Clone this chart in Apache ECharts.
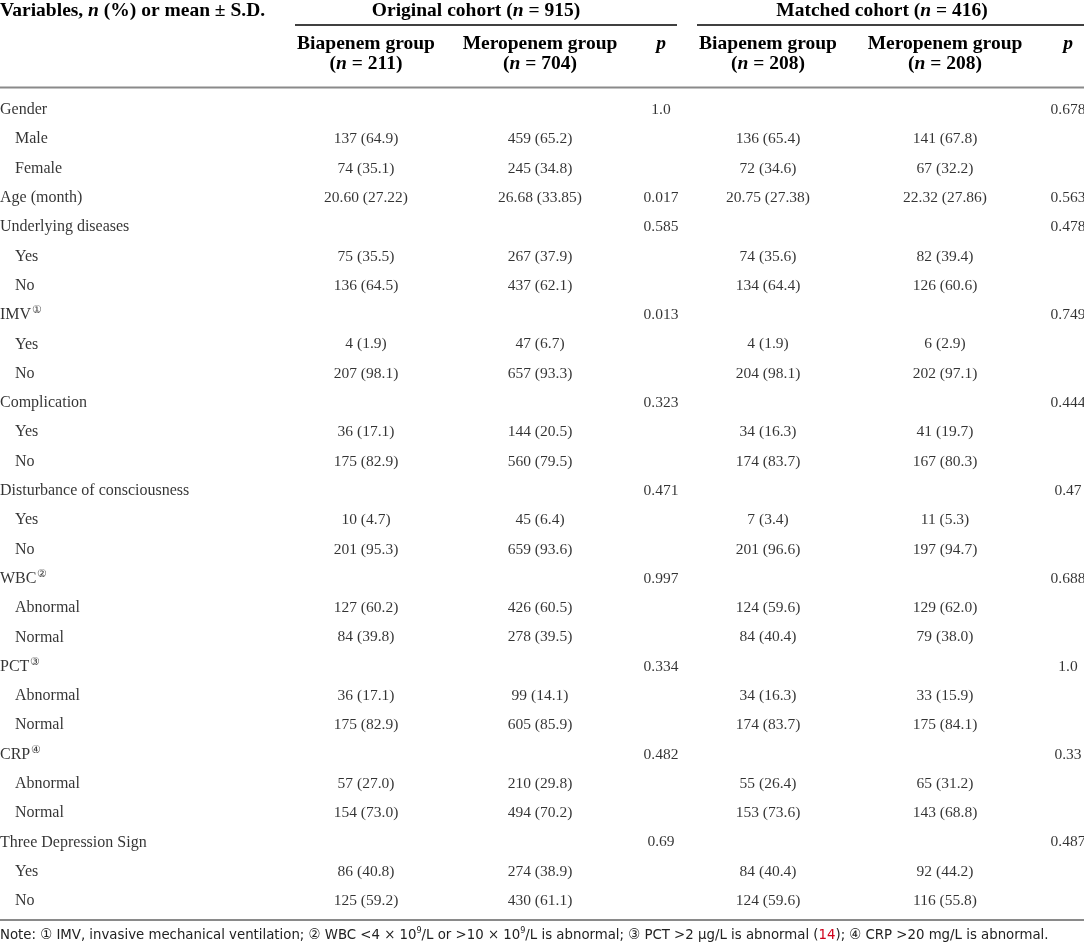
<!DOCTYPE html>
<html>
<head>
<meta charset="utf-8">
<script src="https://cdn.jsdelivr.net/npm/echarts@6/dist/echarts.min.js"></script>
<style>
html,body{margin:0;padding:0;background:#fff;}
#chart{width:1084px;height:947px;}
</style>
</head>
<body>
<div id="chart"></div>
<script>
// rows of the table
var rowNames = ['Gender', 'Male', 'Female', 'Age (month)', 'Underlying diseases', 'Yes', 'No', 'IMV', 'Yes', 'No',
    'Complication', 'Yes', 'No', 'Disturbance of consciousness', 'Yes', 'No', 'WBC', 'Abnormal', 'Normal',
    'PCT', 'Abnormal', 'Normal', 'CRP', 'Abnormal', 'Normal', 'Three Depression Sign', 'Yes', 'No'];
var rowIndent = [0, 1, 1, 0, 0, 1, 1, 0, 1, 1, 0, 1, 1, 0, 1, 1, 0, 1, 1, 0, 1, 1, 0, 1, 1, 0, 1, 1];
var rowMark = ['', '', '', '', '', '', '', '①', '', '', '', '', '', '', '', '', '②', '', '', '③', '', '', '④', '', '', '', '', ''];

var biaOrig = ['', '137 (64.9)', '74 (35.1)', '20.60 (27.22)', '', '75 (35.5)', '136 (64.5)', '', '4 (1.9)', '207 (98.1)',
    '', '36 (17.1)', '175 (82.9)', '', '10 (4.7)', '201 (95.3)', '', '127 (60.2)', '84 (39.8)',
    '', '36 (17.1)', '175 (82.9)', '', '57 (27.0)', '154 (73.0)', '', '86 (40.8)', '125 (59.2)'];
var meroOrig = ['', '459 (65.2)', '245 (34.8)', '26.68 (33.85)', '', '267 (37.9)', '437 (62.1)', '', '47 (6.7)', '657 (93.3)',
    '', '144 (20.5)', '560 (79.5)', '', '45 (6.4)', '659 (93.6)', '', '426 (60.5)', '278 (39.5)',
    '', '99 (14.1)', '605 (85.9)', '', '210 (29.8)', '494 (70.2)', '', '274 (38.9)', '430 (61.1)'];
var pOrig = ['1.0', '', '', '0.017', '0.585', '', '', '0.013', '', '', '0.323', '', '', '0.471', '', '',
    '0.997', '', '', '0.334', '', '', '0.482', '', '', '0.69', '', ''];
var biaMatch = ['', '136 (65.4)', '72 (34.6)', '20.75 (27.38)', '', '74 (35.6)', '134 (64.4)', '', '4 (1.9)', '204 (98.1)',
    '', '34 (16.3)', '174 (83.7)', '', '7 (3.4)', '201 (96.6)', '', '124 (59.6)', '84 (40.4)',
    '', '34 (16.3)', '174 (83.7)', '', '55 (26.4)', '153 (73.6)', '', '84 (40.4)', '124 (59.6)'];
var meroMatch = ['', '141 (67.8)', '67 (32.2)', '22.32 (27.86)', '', '82 (39.4)', '126 (60.6)', '', '6 (2.9)', '202 (97.1)',
    '', '41 (19.7)', '167 (80.3)', '', '11 (5.3)', '197 (94.7)', '', '129 (62.0)', '79 (38.0)',
    '', '33 (15.9)', '175 (84.1)', '', '65 (31.2)', '143 (68.8)', '', '92 (44.2)', '116 (55.8)'];
var pMatch = ['0.678', '', '', '0.563', '0.478', '', '', '0.749', '', '', '0.444', '', '', '0.47', '', '',
    '0.688', '', '', '1.0', '', '', '0.33', '', '', '0.487', '', ''];

// header texts
var groupHeads = ['Original cohort', 'Matched cohort'];
var groupN = ['915', '416'];
var colNames = ['Biapenem group', 'Meropenem group', 'Biapenem group', 'Meropenem group'];
var colN = ['211', '704', '208', '208'];

var serif = "'Liberation Serif', 'DejaVu Serif', serif";
var sans = "'DejaVu Sans Condensed', 'Liberation Sans Narrow', 'Liberation Sans', sans-serif";

var chart = echarts.init(document.getElementById('chart'));

// column centres (pixels on the hidden x axis)
var colX = [366, 540, 661, 768, 945, 1068];
var cols = [biaOrig, meroOrig, pOrig, biaMatch, meroMatch, pMatch];

function cellSeries(vals, x){
    var d = [];
    vals.forEach(function(v, i){ if (v) d.push([x, i, v]); });
    return {
        type: 'scatter', symbolSize: 0, data: d, silent: true,
        label: {
            show: true, position: 'inside', color: '#000',
            fontFamily: serif, fontSize: 15.5,
            formatter: function(p){ return p.value[2]; }
        }
    };
}

var series = cols.map(function(c, k){ return cellSeries(c, colX[k]); });
// first column, row labels
series.push({
    type: 'scatter', symbolSize: 0, silent: true,
    data: rowNames.map(function(n, i){ return [rowIndent[i] ? 15 : 0, i, n, rowMark[i]]; }),
    label: {
        show: true, position: 'right', distance: 0, color: '#000',
        formatter: function(p){
            return '{t|' + p.value[2] + '}' + (p.value[3] ? '{s|' + p.value[3] + '}' : '');
        },
        rich: {
            t: {fontFamily: serif, fontSize: 16, color: '#000', lineHeight: 20},
            s: {fontFamily: serif, fontSize: 10.5, color: '#000', lineHeight: 20, padding: [0, 0, 9, 1]}
        }
    }
});

var hs = 19.5;
var rich = {
    b: {fontFamily: serif, fontSize: hs, fontWeight: 'bold', color: '#000'},
    i: {fontFamily: serif, fontSize: hs, fontWeight: 'bold', fontStyle: 'italic', color: '#000'}
};
function htext(x, y, str, align){
    return {type: 'text', x: x, y: y, silent: true,
        style: {text: str, rich: rich, align: align || 'center', verticalAlign: 'middle',
            fontFamily: serif, fontSize: hs, fontWeight: 'bold', fill: '#000'}};
}
var graphic = [
    htext(0, 11, '{b|Variables, }{i|n}{b| (%) or mean ± S.D.}', 'left'),
    htext(476, 11, '{b|' + groupHeads[0] + ' (}{i|n}{b| = ' + groupN[0] + ')}'),
    htext(882, 11, '{b|' + groupHeads[1] + ' (}{i|n}{b| = ' + groupN[1] + ')}'),
    {type: 'line', shape: {x1: 295, y1: 25, x2: 677, y2: 25}, style: {stroke: '#000', lineWidth: 1.5}},
    {type: 'line', shape: {x1: 697, y1: 25, x2: 1084, y2: 25}, style: {stroke: '#000', lineWidth: 1.5}},
    htext(661, 43.5, '{i|p}'),
    htext(1068, 43.5, '{i|p}'),
    {type: 'line', shape: {x1: 0, y1: 87.5, x2: 1084, y2: 87.5}, style: {stroke: '#8a8a8a', lineWidth: 2}},
    {type: 'line', shape: {x1: 0, y1: 920, x2: 1084, y2: 920}, style: {stroke: '#8a8a8a', lineWidth: 2}},
    {type: 'text', x: 0, y: 935, silent: true,
        style: {
            text: '{n|Note: ① IMV, invasive mechanical ventilation; ② WBC <4 × 10}{u|9}{n|/L or >10 × 10}{u|9}{n|/L is abnormal; ③ PCT >2 μg/L is abnormal (}{r|14}{n|); ④ CRP >20 mg/L is abnormal.}',
            verticalAlign: 'middle',
            rich: {
                n: {fontFamily: sans, fontSize: 14.8, fill: '#222', lineHeight: 18},
                u: {fontFamily: sans, fontSize: 9, fill: '#222', lineHeight: 18, padding: [0, 0, 8, 0]},
                r: {fontFamily: sans, fontSize: 14.8, fill: '#d0021b', lineHeight: 18}
            }
        }}
];
[0, 1, 3, 4].forEach(function(c, k){
    graphic.push(htext(colX[c], 43.5, '{b|' + colNames[k] + '}'));
    graphic.push(htext(colX[c], 64, '{b|(}{i|n}{b| = ' + colN[k] + ')}'));
});

var option = {
    animation: false,
    grid: {left: 0, right: 0, top: 95.35, bottom: 31.35},
    xAxis: {type: 'value', min: 0, max: 1084, show: false},
    yAxis: {type: 'category', inverse: true, show: false, data: rowNames.map(function(n, i){ return i; })},
    series: series,
    graphic: graphic
};
chart.setOption(option);
</script>
</body>
</html>
